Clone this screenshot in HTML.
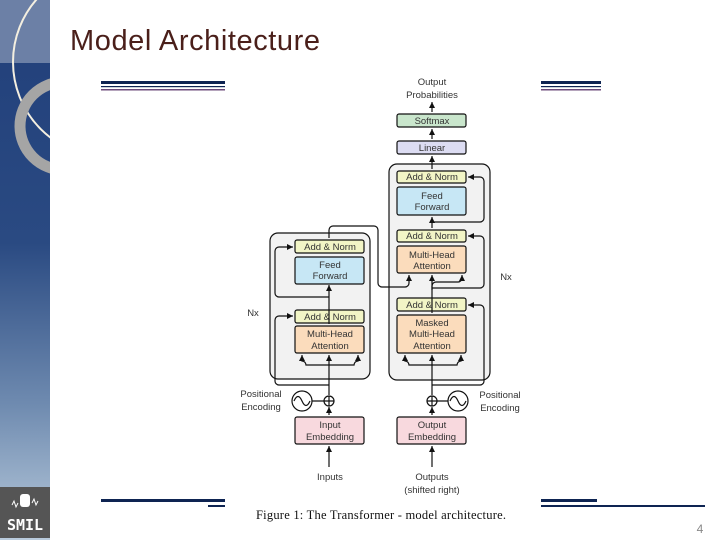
<!DOCTYPE html>
<html><head><meta charset="utf-8"><style>
body{margin:0;width:720px;height:540px;overflow:hidden;background:#fff;font-family:"Liberation Sans",sans-serif}
</style></head><body>
<svg width="720" height="540" viewBox="0 0 720 540" xmlns="http://www.w3.org/2000/svg" font-family="Liberation Sans, sans-serif">
<defs>
<linearGradient id="sb" x1="0" y1="0" x2="0" y2="1">
<stop offset="0" stop-color="#213f7a"/><stop offset="0.45" stop-color="#2a4a82"/><stop offset="0.75" stop-color="#6f8bb0"/><stop offset="1" stop-color="#b9cbdc"/>
</linearGradient>
<marker id="ar" markerWidth="6" markerHeight="6" refX="5" refY="3" orient="auto"><path d="M0,0.5 L5,3 L0,5.5z" fill="#111"/></marker>
<clipPath id="sc"><rect x="0" y="0" width="50" height="540"/></clipPath>
</defs>
<rect x="0" y="0" width="50" height="540" fill="url(#sb)"/>
<g clip-path="url(#sc)">
<rect x="0" y="0" width="50" height="63" fill="#6c80a6"/>
<circle cx="108" cy="62" r="95" fill="none" stroke="#f4efe0" stroke-width="2"/>
<circle cx="64" cy="126" r="44" fill="none" stroke="#a5a5a5" stroke-width="11"/>
</g>
<rect x="0" y="487" width="50" height="51" fill="#555"/>
<text x="25" y="530" text-anchor="middle" font-size="15" font-weight="bold" fill="#fff" font-family="DejaVu Sans Mono, monospace">SMIL</text>
<rect x="20" y="494" width="10" height="13" rx="3" fill="#fff"/>
<path d="M12,505 l2,-4 l2,6 l2,-4 M32,503 l2,-4 l2,6 l2,-4" stroke="#fff" fill="none" stroke-width="1"/>
<text x="70" y="50" font-size="29" fill="#4a1f1a" font-family="Liberation Sans, sans-serif" textLength="250">Model Architecture</text>
<!-- lines -->
<rect x="101" y="81" width="124" height="3" fill="#0e2452"/><rect x="101" y="86" width="124" height="1.2" fill="#0e2452"/><rect x="101" y="89" width="124" height="1.5" fill="#6b4a7a"/>
<rect x="541" y="81" width="60" height="3" fill="#0e2452"/><rect x="541" y="86" width="60" height="1.2" fill="#0e2452"/><rect x="541" y="89" width="60" height="1.5" fill="#6b4a7a"/>
<rect x="101" y="499" width="124" height="3" fill="#0e2452"/><rect x="208" y="505" width="17" height="2" fill="#0e2452"/>
<rect x="541" y="499" width="56" height="3" fill="#0e2452"/><rect x="541" y="505" width="164" height="2" fill="#0e2452"/>
<!-- diagram -->
<g stroke="#111" stroke-width="1.2">
<rect x="270" y="233" width="100" height="146" rx="8" fill="#f2f2f2"/>
<rect x="389" y="164" width="101" height="216" rx="8" fill="#f2f2f2"/>
<rect x="295" y="240" width="69" height="13" rx="2" fill="#f2f5c6"/>
<rect x="295" y="257" width="69" height="27" rx="2" fill="#c7e7f5"/>
<rect x="295" y="310" width="69" height="13" rx="2" fill="#f2f5c6"/>
<rect x="295" y="326" width="69" height="27" rx="2" fill="#fbdcbc"/>
<rect x="397" y="114" width="69" height="13" rx="2" fill="#c9e6cc"/>
<rect x="397" y="141" width="69" height="13" rx="2" fill="#dcdcf2"/>
<rect x="397" y="171" width="69" height="12" rx="2" fill="#f2f5c6"/>
<rect x="397" y="187" width="69" height="28" rx="2" fill="#c7e7f5"/>
<rect x="397" y="230" width="69" height="12" rx="2" fill="#f2f5c6"/>
<rect x="397" y="246" width="69" height="27" rx="2" fill="#fbdcbc"/>
<rect x="397" y="298" width="69" height="13" rx="2" fill="#f2f5c6"/>
<rect x="397" y="315" width="69" height="38" rx="2" fill="#fbdcbc"/>
<rect x="295" y="417" width="69" height="27" rx="2" fill="#f8d9de"/>
<rect x="397" y="417" width="69" height="27" rx="2" fill="#f8d9de"/>
<circle cx="329" cy="401" r="5" fill="#fff"/><path d="M324,401h10M329,396v10"/>
<circle cx="432" cy="401" r="5" fill="#fff"/><path d="M427,401h10M432,396v10"/>
<circle cx="302" cy="401" r="10" fill="#fff"/><path d="M294,401 q4,-9 8,0 t8,0" fill="none"/>
<circle cx="458" cy="401" r="10" fill="#fff"/><path d="M450,401 q4,-9 8,0 t8,0" fill="none"/>
<path d="M312,401h12M437,401h11" fill="none"/>
<g fill="none" marker-end="url(#ar)">
<path d="M329,467V446"/><path d="M432,467V446"/>
<path d="M329,415V407"/><path d="M432,415V407"/>
<path d="M329,395V355"/><path d="M329,365h-23a4,4 0 0 0 -4,-4V355"/><path d="M329,365h25a4,4 0 0 1 4,-4V355"/>
<path d="M329,385H279a4,4 0 0 1 -4,-4V320a4,4 0 0 1 4,-4H293"/>
<path d="M329,324V285"/>
<path d="M329,297H279a4,4 0 0 1 -4,-4V251a4,4 0 0 1 4,-4H293"/>
<path d="M432,395V355"/><path d="M432,365h-23a4,4 0 0 0 -4,-4V355"/><path d="M432,365h25a4,4 0 0 1 4,-4V355"/>
<path d="M432,385H480a4,4 0 0 0 4,-4V309a4,4 0 0 0 -4,-4H468"/>
<path d="M432,313V286a4,4 0 0 1 4,-4H458a4,4 0 0 0 4,-4V275"/><path d="M432,290V275"/>
<path d="M432,288H480a4,4 0 0 0 4,-4V240a4,4 0 0 0 -4,-4H468"/>
<path d="M432,228V217"/>
<path d="M432,222H480a4,4 0 0 0 4,-4V181a4,4 0 0 0 -4,-4H468"/>
<path d="M432,169V156"/><path d="M432,139V129"/><path d="M432,112V102"/>
<path d="M329,238V230a4,4 0 0 1 4,-4H374a4,4 0 0 1 4,4V283a4,4 0 0 0 4,4H405a4,4 0 0 0 4,-4V275"/>
</g>
</g>
<g font-size="9.5" fill="#333" text-anchor="middle">
<text x="432" y="85">Output</text><text x="432" y="98">Probabilities</text>
<text x="432" y="124">Softmax</text><text x="432" y="151">Linear</text>
<text x="432" y="180">Add &amp; Norm</text><text x="432" y="199">Feed</text><text x="432" y="210">Forward</text>
<text x="432" y="239">Add &amp; Norm</text><text x="432" y="258">Multi-Head</text><text x="432" y="269">Attention</text>
<text x="432" y="308">Add &amp; Norm</text><text x="432" y="326">Masked</text><text x="432" y="337">Multi-Head</text><text x="432" y="349">Attention</text>
<text x="330" y="250">Add &amp; Norm</text><text x="330" y="268">Feed</text><text x="330" y="279">Forward</text>
<text x="330" y="320">Add &amp; Norm</text><text x="330" y="337">Multi-Head</text><text x="330" y="349">Attention</text>
<text x="330" y="428">Input</text><text x="330" y="440">Embedding</text>
<text x="432" y="428">Output</text><text x="432" y="440">Embedding</text>
<text x="330" y="480">Inputs</text><text x="432" y="480">Outputs</text><text x="432" y="493">(shifted right)</text>
<text x="261" y="397">Positional</text><text x="261" y="410">Encoding</text>
<text x="500" y="398">Positional</text><text x="500" y="411">Encoding</text>
<text x="253" y="316">Nx</text><text x="506" y="280">Nx</text>
</g>
<text x="381" y="519" text-anchor="middle" font-size="12.5" fill="#111" font-family="Liberation Serif, serif" textLength="250">Figure 1: The Transformer - model architecture.</text>
<text x="700" y="533" text-anchor="middle" font-size="12" fill="#888">4</text>
</svg>
</body></html>
